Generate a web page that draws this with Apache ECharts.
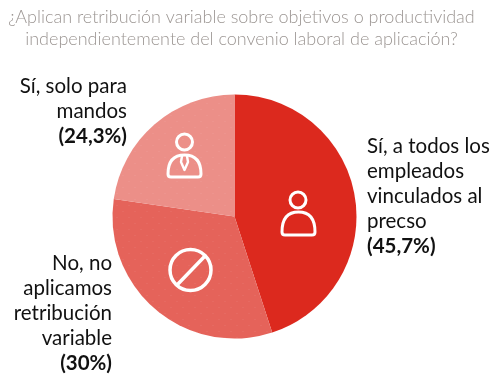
<!DOCTYPE html>
<html><head><meta charset="utf-8">
<script src="https://cdn.jsdelivr.net/npm/echarts@6/dist/echarts.min.js"></script>
<style>html,body{margin:0;padding:0;background:#fff}#c{width:496px;height:381px}</style></head>
<body><div id="c"></div>
<script>
var titleLines = ['¿Aplican retribución variable sobre objetivos o productividad','independientemente del convenio laboral de aplicación?'];
var categories = ['Sí, a todos los\nempleados\nvinculados al\nprecso','No, no\naplicamos\nretribución\nvariable','Sí, solo para\nmandos'];
var drawnShares = [45.0, 32.3, 22.7];
var printedPercents = ['45,7%','30%','24,3%'];
var colors = ['#DC291E','#E5635A','#EC8F88'];
var labelSpots = [
  {x:367,y:196,align:'left'},
  {x:112,y:313,align:'right'},
  {x:127,y:111,align:'right'}
];
var FONT = 'Lato';
var chart = echarts.init(document.getElementById('c'), null, {renderer:'canvas'});
function stroke(w){return {stroke:'#fff',lineWidth:w||3,fill:null,lineCap:'round',lineJoin:'round'};}
function bodyPath(x0,x1,top,bottom){
  var mid=(x0+x1)/2,r=(x1-x0)/2;
  return 'M'+(x0+3)+' '+bottom+' L'+(x1-3)+' '+bottom+' Q'+x1+' '+bottom+' '+x1+' '+(bottom-3)+
    ' C'+x1+' '+(top+4)+' '+(mid+r*0.55)+' '+top+' '+mid+' '+top+
    ' C'+(mid-r*0.55)+' '+top+' '+x0+' '+(top+4)+' '+x0+' '+(bottom-3)+' Q'+x0+' '+bottom+' '+(x0+3)+' '+bottom+' Z';
}
echarts.graphic.registerShape('iconBodyA', echarts.graphic.extendPath(bodyPath(282,315,212,235),{}));
echarts.graphic.registerShape('iconBodyB', echarts.graphic.extendPath(bodyPath(168,201,155,177),{}));
echarts.graphic.registerShape('iconTie', echarts.graphic.extendPath('M182 156 L181 162 L184.5 170 L188 162 L187 156',{}));
function dots(){return {symbol:'circle',symbolSize:0.35,dashArrayX:[[6,6],[0,6,6,0]],dashArrayY:[3,3],color:'rgba(255,255,255,0.14)'};}
chart.setOption({
  animation:false,
  backgroundColor:'#fff',
  title:{text:titleLines.join('\n'),left:236.5,top:1,textAlign:'center',
    textStyle:{fontFamily:FONT,fontWeight:300,fontSize:18,lineHeight:22,color:'#9C9693'}},
  series:[{
    type:'pie',center:[234.5,216.5],radius:[0,122],startAngle:90,clockwise:true,silent:true,
    data:drawnShares.map(function(v,i){
      var st={color:colors[i]}; if(i) st.decal=dots();
      return {value:v,name:categories[i],itemStyle:st};}),
    label:{show:true,position:'outside',overflow:'none',width:200,edgeDistance:0,
      formatter:function(p){return p.name.split('\n').map(function(s){return '{n|'+s+'}';}).join('\n')+'\n{b|('+printedPercents[p.dataIndex]+')}';},
      rich:{
        n:{fontFamily:FONT,fontSize:20.5,lineHeight:25,color:'#111'},
        b:{fontFamily:FONT,fontSize:20.5,lineHeight:25,fontWeight:'bold',color:'#111'}
      }},
    labelLine:{show:false},
    labelLayout:function(p){var s=labelSpots[p.dataIndex];
      return {x:s.x,y:s.y,align:s.align,verticalAlign:'middle',hideOverlap:false};}
  }],
  graphic:[
    {type:'circle',shape:{cx:298,cy:200,r:8},style:stroke(),z:10},
    {type:'iconBodyA',style:stroke(),z:10},
    {type:'circle',shape:{cx:184.5,cy:142,r:8},style:stroke(),z:10},
    {type:'iconBodyB',style:stroke(),z:10},
    {type:'iconTie',style:stroke(2.4),z:10},
    {type:'circle',shape:{cx:190.5,cy:270,r:20.5},style:stroke(3.5),z:10},
    {type:'line',shape:{x1:177,y1:285,x2:205,y2:256},style:stroke(3.5),z:10}
  ]
});
</script></body></html>
